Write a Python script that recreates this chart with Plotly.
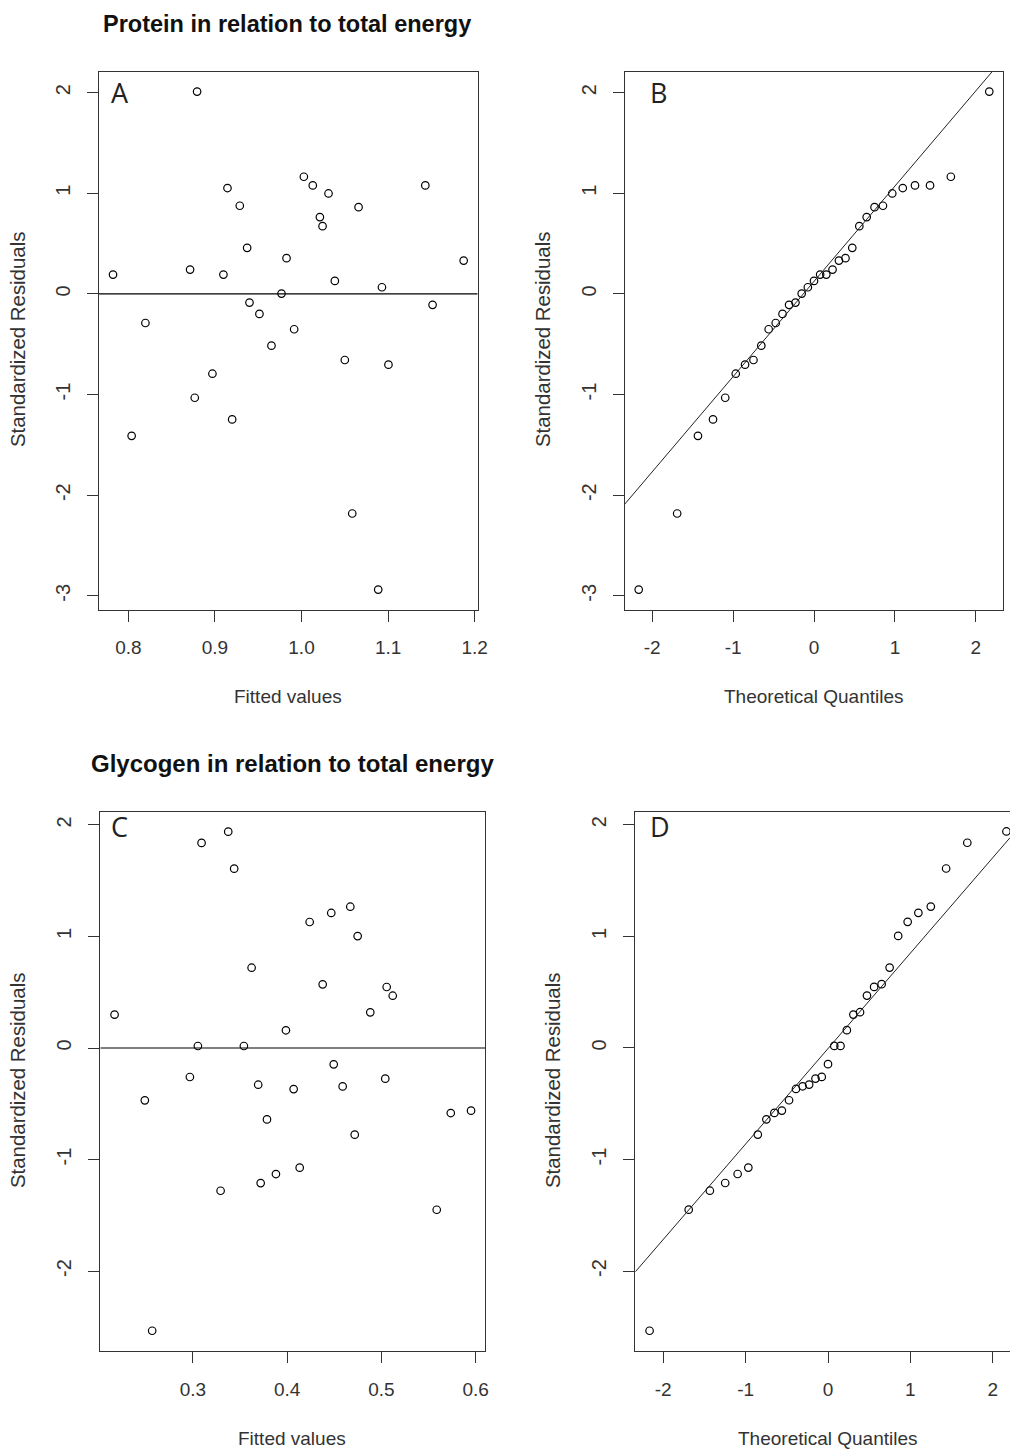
import numpy as np
import plotly.graph_objects as go

# ---------------------------------------------------------------
# Regression diagnostics: protein and glycogen vs. total energy
# ---------------------------------------------------------------

# Protein model: fitted values and standardized residuals (n = 33)
fitted_protein = [
    0.8794, 0.9145, 0.9287, 1.0027, 1.0130, 1.0312, 1.1430, 1.0659, 1.0212,
    1.0243, 0.9372, 0.9827, 0.7823, 0.8713, 0.9098, 1.1873, 1.0385, 1.0929,
    0.9769, 0.9399, 1.1514, 0.9514, 0.8197, 0.9915, 0.9653, 1.0500, 1.1004,
    0.8971, 0.8767, 0.9199, 0.8038, 1.0586, 1.0886,
]
resid_protein = [
    2.010, 1.052, 0.876, 1.164, 1.078, 0.998, 1.078, 0.862, 0.763,
    0.673, 0.458, 0.355, 0.192, 0.242, 0.192, 0.331, 0.129, 0.066,
    0.003, -0.086, -0.109, -0.199, -0.289, -0.351, -0.514, -0.657, -0.703,
    -0.793, -1.032, -1.247, -1.410, -2.182, -2.938,
]

# Glycogen model: fitted values and standardized residuals (n = 33)
fitted_glycogen = [
    0.3375, 0.3092, 0.3438, 0.4670, 0.4468, 0.4239, 0.4748, 0.3623, 0.4377,
    0.5056, 0.5120, 0.4882, 0.2169, 0.3987, 0.3053, 0.3541, 0.4494, 0.2968,
    0.5041, 0.3693, 0.4589, 0.4069, 0.2490, 0.5951, 0.5736, 0.3786, 0.4717,
    0.4133, 0.3881, 0.3719, 0.3294, 0.5587, 0.2568,
]
resid_glycogen = [
    1.940, 1.839, 1.608, 1.267, 1.211, 1.130, 1.004, 0.720, 0.571,
    0.547, 0.469, 0.320, 0.299, 0.159, 0.018, 0.018, -0.146, -0.260,
    -0.275, -0.329, -0.344, -0.368, -0.469, -0.562, -0.583, -0.640, -0.777,
    -1.073, -1.130, -1.211, -1.280, -1.450, -2.535,
]

# Theoretical normal quantiles for 33 ordered observations
theoretical_quantiles = [
    -2.166, -1.691, -1.434, -1.248, -1.097, -0.967, -0.852, -0.748, -0.651,
    -0.560, -0.473, -0.389, -0.308, -0.229, -0.152, -0.076, 0.000, 0.076,
    0.152, 0.229, 0.308, 0.389, 0.473, 0.560, 0.651, 0.748, 0.852,
    0.967, 1.097, 1.248, 1.434, 1.691, 2.166,
]
Q_LOW, Q_HIGH = -0.6745, 0.6745  # standard normal quartiles

# Tick labels
ticks_fit_protein = [0.8, 0.9, 1.0, 1.1, 1.2]
ticks_fit_protein_text = ["0.8", "0.9", "1.0", "1.1", "1.2"]
ticks_fit_glycogen = [0.3, 0.4, 0.5, 0.6]
ticks_fit_glycogen_text = ["0.3", "0.4", "0.5", "0.6"]
ticks_theo = [-2, -1, 0, 1, 2]
ticks_theo_text = ["-2", "-1", "0", "1", "2"]
ticks_res_protein = [-3, -2, -1, 0, 1, 2]
ticks_res_protein_text = ["-3", "-2", "-1", "0", "1", "2"]
ticks_res_glycogen = [-2, -1, 0, 1, 2]
ticks_res_glycogen_text = ["-2", "-1", "0", "1", "2"]

titles = ["Protein in relation to total energy",
          "Glycogen in relation to total energy"]
panel_letters = ["A", "B", "C", "D"]

# ---------------------------------------------------------------
W, H = 1010, 1450
INK = "#333333"
FONT = "Liberation Sans, Arial, sans-serif"


def r_range(values):
    """Axis limits the way base R pads them (4% on each side)."""
    lo, hi = float(np.min(values)), float(np.max(values))
    pad = 0.04 * (hi - lo)
    return [lo - pad, hi + pad]


def qq_line(sample):
    """Line through the first and third quartiles (as qqline does)."""
    q1, q3 = np.quantile(sample, [0.25, 0.75])
    slope = (q3 - q1) / (Q_HIGH - Q_LOW)
    return slope, q1 - slope * Q_LOW


def xdom(left, right):
    return [left / W, min(right / W, 1.0)]


def ydom(top, bottom):
    return [1 - bottom / H, 1 - top / H]


fig = go.Figure()

sorted_prot = sorted(resid_protein)
sorted_gly = sorted(resid_glycogen)

# Panel boxes in pixels: (left, right, top, bottom)
boxes = {
    1: (99.0, 477.7, 71.7, 609.5),
    2: (624.7, 1003.3, 71.7, 609.5),
    3: (100.3, 485.3, 811.7, 1350.7),
    4: (635.3, 1020.7, 811.5, 1350.7),
}

marker = dict(symbol="circle-open", size=7.5, color="black",
              line=dict(width=1.2, color="black"))

panels = [
    (1, fitted_protein, resid_protein),
    (2, theoretical_quantiles, sorted_prot),
    (3, fitted_glycogen, resid_glycogen),
    (4, theoretical_quantiles, sorted_gly),
]
for idx, xs, ys in panels:
    sfx = "" if idx == 1 else str(idx)
    fig.add_trace(go.Scatter(x=xs, y=ys, mode="markers", marker=marker,
                             xaxis="x" + sfx, yaxis="y" + sfx,
                             showlegend=False, hoverinfo="skip"))

x_ranges = {
    1: r_range(fitted_protein),
    2: r_range(theoretical_quantiles),
    3: r_range(fitted_glycogen),
    4: r_range(theoretical_quantiles),
}
y_ranges = {
    1: r_range(resid_protein),
    2: r_range(resid_protein),
    3: r_range(resid_glycogen),
    4: r_range(resid_glycogen),
}

# Panel D runs past the right edge of the page: keep only the visible part
l4, r4, _, _ = boxes[4]
if r4 > W:
    frac = (W - l4) / (r4 - l4)
    lo, hi = x_ranges[4]
    x_ranges[4] = [lo, lo + frac * (hi - lo)]

# Zero reference lines for the residual-vs-fitted panels
for idx in (1, 3):
    sfx = "" if idx == 1 else str(idx)
    fig.add_trace(go.Scatter(x=x_ranges[idx], y=[0, 0], mode="lines",
                             line=dict(color="black", width=1.2),
                             xaxis="x" + sfx, yaxis="y" + sfx,
                             showlegend=False, hoverinfo="skip"))

# Normal Q-Q reference lines
for idx, sample in ((2, resid_protein), (4, resid_glycogen)):
    slope, icpt = qq_line(sample)
    xs = np.array(x_ranges[idx])
    fig.add_trace(go.Scatter(x=xs, y=icpt + slope * xs, mode="lines",
                             line=dict(color="#222222", width=1),
                             xaxis="x" + str(idx), yaxis="y" + str(idx),
                             showlegend=False, hoverinfo="skip"))

x_ticks = {
    1: (ticks_fit_protein, ticks_fit_protein_text),
    2: (ticks_theo, ticks_theo_text),
    3: (ticks_fit_glycogen, ticks_fit_glycogen_text),
    4: (ticks_theo, ticks_theo_text),
}
y_ticks = {
    1: (ticks_res_protein, ticks_res_protein_text),
    2: (ticks_res_protein, ticks_res_protein_text),
    3: (ticks_res_glycogen, ticks_res_glycogen_text),
    4: (ticks_res_glycogen, ticks_res_glycogen_text),
}

axis_common = dict(showgrid=False, zeroline=False, showline=True,
                   linecolor=INK, linewidth=1.3, ticks="outside",
                   ticklen=11, tickwidth=1.2, tickcolor=INK,
                   automargin=False, fixedrange=True)

layout_axes = {}
for idx, (l, r, t, b) in boxes.items():
    sfx = "" if idx == 1 else str(idx)
    tv, tt = x_ticks[idx]
    layout_axes["xaxis" + sfx] = dict(
        axis_common, domain=xdom(l, r), range=x_ranges[idx],
        anchor="y" + sfx, tickmode="array", tickvals=tv, ticktext=tt,
        mirror=True, ticklabelstandoff=10,
        tickfont=dict(family=FONT, size=19, color=INK))
    tv, tt = y_ticks[idx]
    layout_axes["yaxis" + sfx] = dict(
        axis_common, domain=ydom(t, b), range=y_ranges[idx],
        anchor="x" + sfx, tickmode="array", tickvals=tv, ticktext=tt,
        tickangle=-90, mirror=(idx != 4), ticklabelstandoff=9,
        tickfont=dict(family=FONT, size=20, color=INK))

fig.update_layout(**layout_axes)

annotations = []


def text_at(txt, x, y, size, bold=False, angle=0, color=INK, family=FONT,
            xanchor="center"):
    annotations.append(dict(
        text=f"<b>{txt}</b>" if bold else txt,
        x=x / W, y=1 - y / H, xref="paper", yref="paper",
        xanchor=xanchor, yanchor="middle", showarrow=False, textangle=angle,
        font=dict(family=family, size=size, color=color)))


# Titles
text_at(titles[0], 287, 24, 23.5, bold=True, color="#111111")
text_at(titles[1], 292, 763, 24, bold=True, color="#111111")

# Axis titles
text_at("Fitted values", 288, 696, 19)
text_at("Theoretical Quantiles", 814, 696, 19)
text_at("Fitted values", 292, 1438, 19)
text_at("Theoretical Quantiles", 828, 1438, 19)
text_at("Standardized Residuals", 18, 340, 20.4, angle=-90)
text_at("Standardized Residuals", 543, 340, 20.4, angle=-90)
text_at("Standardized Residuals", 18, 1081, 20.4, angle=-90)
text_at("Standardized Residuals", 553, 1081, 20.4, angle=-90)

# Panel letters
letter_pos = [(109, 93), (648, 93), (109, 826), (648, 826)]
for letter, (lx, ly) in zip(panel_letters, letter_pos):
    text_at(letter, lx, ly, 27, color="#222222", family="Open Sans, sans-serif",
            xanchor="left")

fig.update_layout(
    width=W, height=H,
    margin=dict(l=0, r=0, t=0, b=0, autoexpand=False),
    paper_bgcolor="white", plot_bgcolor="white",
    annotations=annotations,
)

fig.write_html("out.html")
